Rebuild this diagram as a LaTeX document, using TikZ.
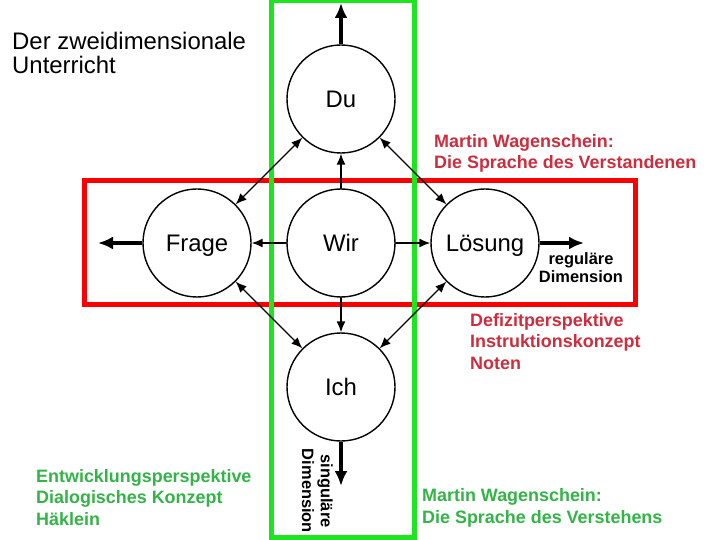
\documentclass[tikz,border=0pt]{standalone}
\usepackage{fontspec}
\setmainfont{Liberation Sans}
\usetikzlibrary{arrows.meta}
\definecolor{rahmenrot}{RGB}{250,0,0}
\definecolor{rahmengruen}{RGB}{30,230,30}
\definecolor{textrot}{RGB}{205,45,60}
\definecolor{textgruen}{RGB}{50,180,70}
\begin{document}
\begin{tikzpicture}[x=1bp, y=-1bp, line join=round, line cap=round,
    kreis/.style={circle, draw, line width=1.4bp, minimum size=108bp, inner sep=0pt,
      text height=17bp, text depth=0bp, font=\fontsize{24}{26}\selectfont},
    pfeil/.style={line width=1.4bp, -{Latex[length=11bp, width=9bp]}},
    doppelpfeil/.style={line width=1.4bp, {Latex[length=11bp, width=9bp]}-{Latex[length=11bp, width=9bp]}},
    dickpfeil/.style={line width=4bp, line cap=butt, -{Latex[length=15bp, width=13bp]}},
    fett/.style={font=\bfseries\fontsize{18}{21.5}\selectfont, align=left, anchor=base west, inner sep=0pt},
    klein/.style={font=\bfseries\fontsize{16.5}{19}\selectfont, align=center, anchor=base, inner sep=0pt}]
  \path[use as bounding box, fill=white] (0,0) rectangle (720,540);

  % Rahmen: regulaere und singulaere Dimension
  \draw[rahmenrot, line width=5bp, line cap=butt, line join=miter] (84.5,180.5) rectangle (635,304);
  \draw[rahmengruen, line width=5bp, line cap=butt, line join=miter] (271,1) rectangle (414,537);

  % Kreise
  \node[kreis] (frage) at (197,243) {Frage};
  \node[kreis] (wir) at (341,243) {Wir};
  \node[kreis] (loesung) at (485,243) {L\"osung};
  \node[kreis] (du) at (341,99) {Du};
  \node[kreis] (ich) at (341,387) {Ich};

  % Enden der dicken Pfeile
  \coordinate (links) at (98,243);
  \coordinate (rechts) at (584,243);
  \coordinate (oben) at (341,3);
  \coordinate (unten) at (341,486);

  % Pfeile vom Wir aus
  \draw[pfeil] (wir) -- (frage);
  \draw[pfeil] (wir) -- (loesung);
  \draw[pfeil] (wir) -- (du);
  \draw[pfeil] (wir) -- (ich);

  % Doppelpfeile zwischen den Nachbarn
  \draw[doppelpfeil] (frage) -- (du);
  \draw[doppelpfeil] (du) -- (loesung);
  \draw[doppelpfeil] (frage) -- (ich);
  \draw[doppelpfeil] (ich) -- (loesung);

  % Dicke Pfeile nach aussen
  \draw[dickpfeil] (frage) -- (links);
  \draw[dickpfeil] (loesung) -- (rechts);
  \draw[dickpfeil] (du) -- (oben);
  \draw[dickpfeil] (ich) -- (unten);

  % Beschriftungen (verankert an der letzten Grundlinie)
  \node[font=\fontsize{24}{25}\selectfont, align=left, anchor=base west, inner sep=0pt] (titel) at (12,74) {Der zweidimensionale\\Unterricht};
  \node[fett, textrot] (verstandenen) at (434,169) {Martin Wagenschein:\\Die Sprache des Verstandenen};
  \node[fett, textrot] (defizit) at (470,369) {Defizitperspektive\\Instruktionskonzept\\Noten};
  \node[fett, textgruen] (entwicklung) at (36,525) {Entwicklungsperspektive\\Dialogisches Konzept\\H\"aklein};
  \node[fett, textgruen] (verstehens) at (422,523) {Martin Wagenschein:\\Die Sprache des Verstehens};
  \node[klein] (regulaer) at (581,283) {regul\"are\\Dimension};
  \node[klein, rotate=-90] (singulaer) at (302,491) {singul\"are\\Dimension};
\end{tikzpicture}
\end{document}
